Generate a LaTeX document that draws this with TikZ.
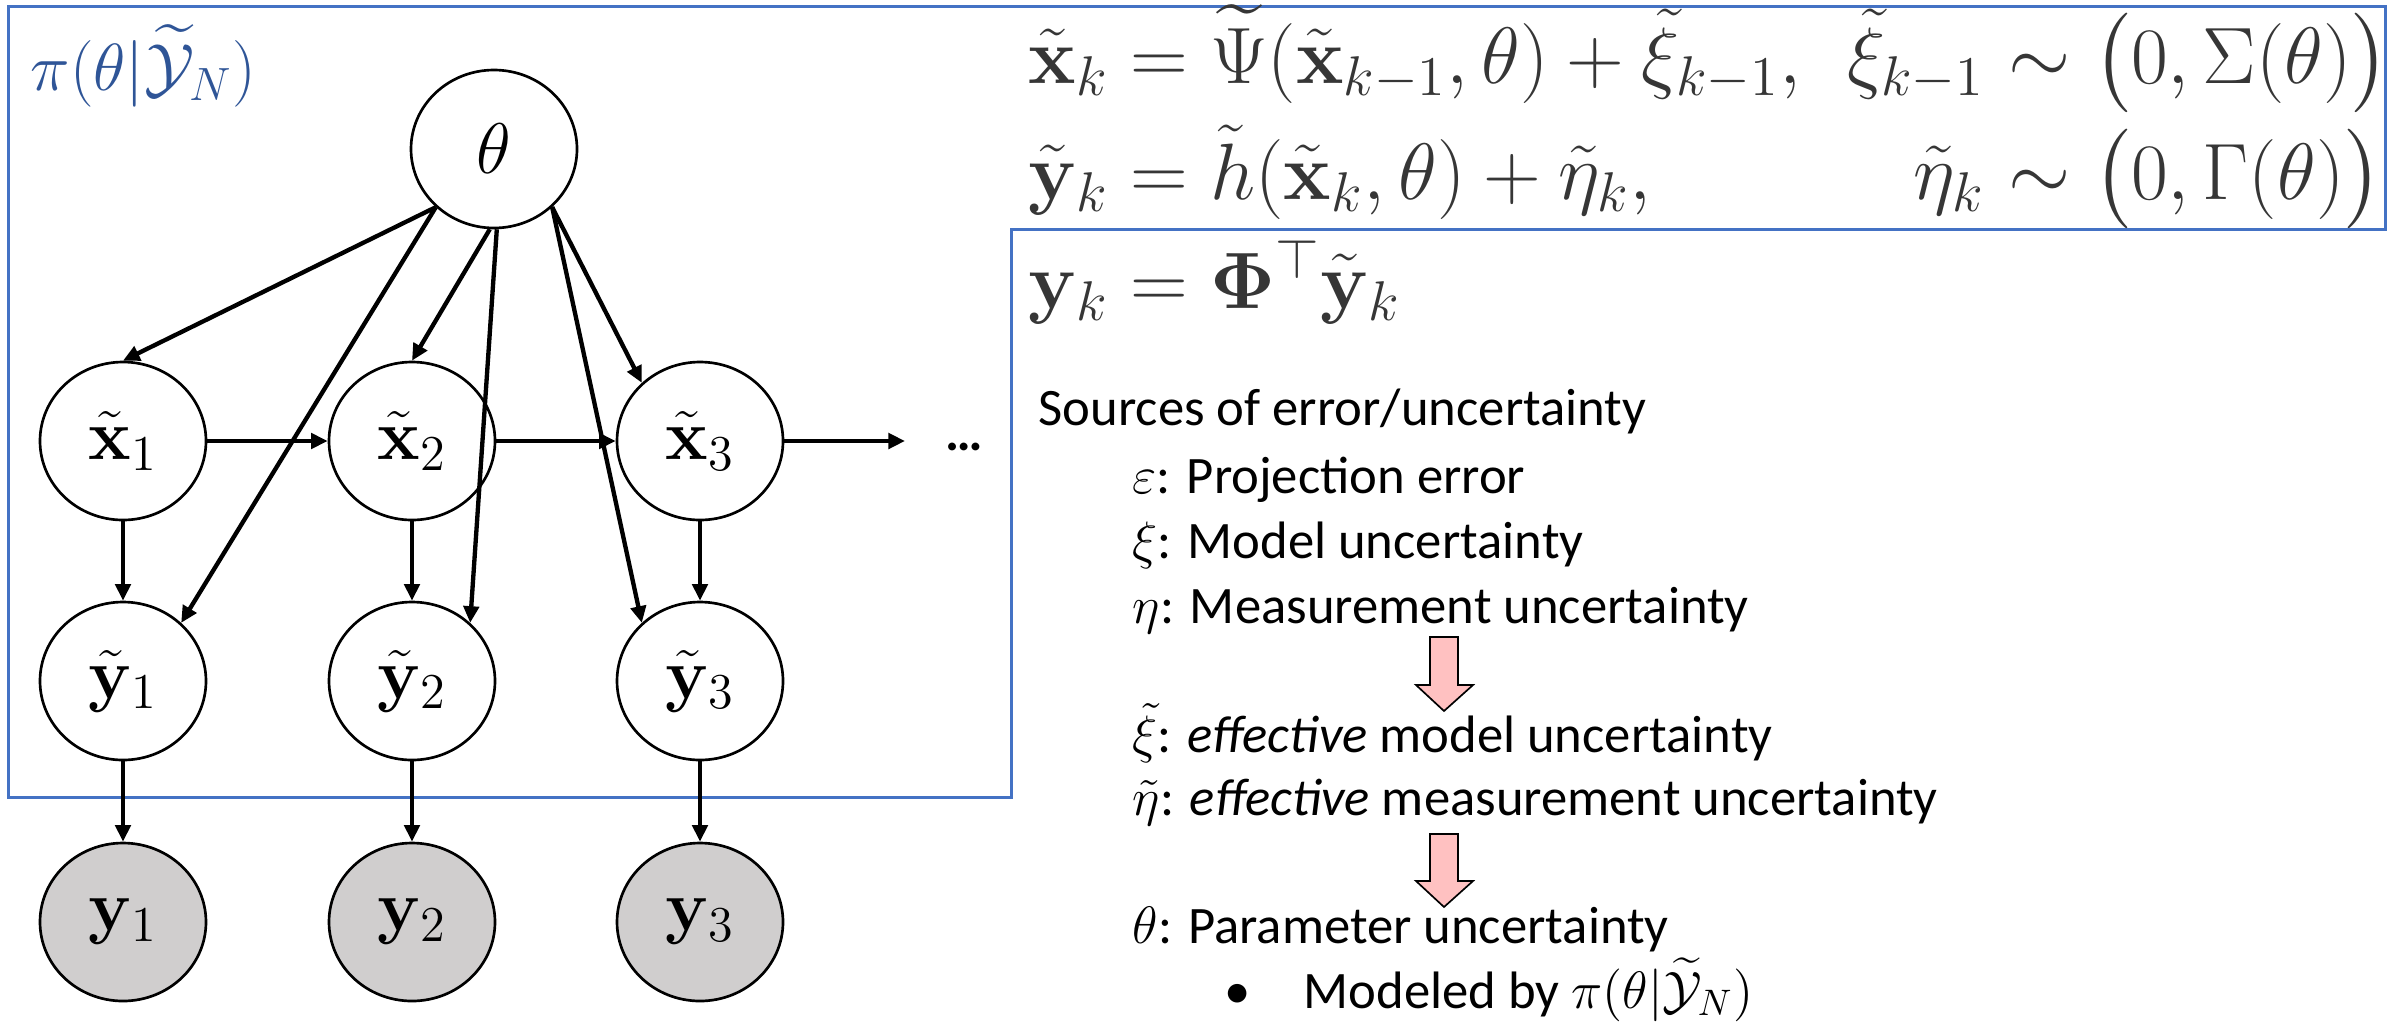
\RequirePackage{fix-cm}
\documentclass[tikz,border=0pt]{standalone}
\usepackage{amsmath}
\usepackage[no-math]{fontspec}
\setmainfont{Carlito}
\usetikzlibrary{shapes.geometric,arrows.meta}
\definecolor{boxblue}{HTML}{4472C4}
\definecolor{labblue}{HTML}{2F5597}
\definecolor{eqgray}{HTML}{363636}
\definecolor{obsgray}{HTML}{D0CECE}
\definecolor{pinkfill}{HTML}{FFC1C1}
\begin{document}
\begin{tikzpicture}[x=0.3pt,y=-0.3pt,
  rv/.style={ellipse,draw,line width=0.8pt,fill=white,minimum width=49.8pt,minimum height=47.4pt,inner sep=0pt,font=\fontsize{21.5}{25}\selectfont},
  obs/.style={rv,fill=obsgray},
  link/.style={line width=1.3pt,-{Triangle[length=5pt,width=4.6pt]}},
  eq/.style={inner sep=0pt,text=eqgray,font=\fontsize{24}{28}\selectfont},
  txt/.style={inner sep=0pt,anchor=base west,font=\fontsize{15.8}{19}\selectfont},
  bigarrow/.style={draw=black,line width=0.5pt,fill=pinkfill,line join=miter}
]
\useasboundingbox (0,0) rectangle (2394,1021);

% outline box
\draw[boxblue,line width=0.9pt] (8,6) -- (2385,6) -- (2385,229) -- (1011,229) -- (1011,797) -- (8,797) -- cycle;

\node[anchor=base west,inner sep=0pt,text=labblue,font=\fontsize{20}{24}\selectfont] (post) at (30,90) {$\pi(\theta|\widetilde{\mathcal{Y}}_N)$};

% nodes
\node[rv] (theta) at (494,149) {$\theta$};
\node[rv] (x1) at (123,441) {$\tilde{\mathbf{x}}_1$};
\node[rv] (x2) at (412,441) {$\tilde{\mathbf{x}}_2$};
\node[rv] (x3) at (700,441) {$\tilde{\mathbf{x}}_3$};
\node[rv] (yt1) at (123,681) {$\tilde{\mathbf{y}}_1$};
\node[rv] (yt2) at (412,681) {$\tilde{\mathbf{y}}_2$};
\node[rv] (yt3) at (700,681) {$\tilde{\mathbf{y}}_3$};
\node[obs] (y1) at (123,922) {$\mathbf{y}_1$};
\node[obs] (y2) at (412,922) {$\mathbf{y}_2$};
\node[obs] (y3) at (700,922) {$\mathbf{y}_3$};
\node[inner sep=0pt,font=\fontsize{15.8}{19}\selectfont\bfseries] (dots) at (964,447) {…};
\coordinate (dend) at (905,441);

% edges
\draw[link] (theta.225) -- (x1.north);
\draw[link] (theta.225) -- (yt1.45);
\draw[link] (theta.267) -- (x2.north);
\draw[link] (theta.272) -- (yt2.45);
\draw[link] (theta.315) -- (x3.135);
\draw[link] (theta.315) -- (yt3.135);
\draw[link] (x1) -- (x2);
\draw[link] (x2) -- (x3);
\draw[link] (x3) -- (dend);
\draw[link] (x1) -- (yt1);
\draw[link] (x2) -- (yt2);
\draw[link] (x3) -- (yt3);
\draw[link] (yt1) -- (y1);
\draw[link] (yt2) -- (y2);
\draw[link] (yt3) -- (y3);

% equations
\node[eq,anchor=base west] (eq1a) at (1028,83) {$\tilde{\mathbf{x}}_k = \widetilde{\Psi}(\tilde{\mathbf{x}}_{k-1},\theta) + \tilde{\xi}_{k-1},$};
\node[eq,anchor=base east] (eq1b) at (1985,83) {$\tilde{\xi}_{k-1}$};
\node[eq,anchor=base west] (eq1c) at (2008,83) {$\sim\bigl(0,\Sigma(\theta)\bigr)$};
\node[eq,anchor=base west] (eq2a) at (1028,199) {$\tilde{\mathbf{y}}_k = \tilde{h}(\tilde{\mathbf{x}}_k,\theta) + \tilde{\eta}_k,$};
\node[eq,anchor=base east] (eq2b) at (1985,199) {$\tilde{\eta}_k$};
\node[eq,anchor=base west] (eq2c) at (2008,199) {$\sim\bigl(0,\Gamma(\theta)\bigr)$};
\node[eq,anchor=base west] (eq3) at (1028,308) {$\mathbf{y}_k = \mathbf{\Phi}^{\top}\tilde{\mathbf{y}}_k$};

% text list
\node[txt] (src) at (1038,425) {Sources of error/uncertainty};
\node[txt] (s1) at (1132,493) {$\varepsilon$: Projection error};
\node[txt] (s2) at (1132,558) {$\xi$: Model uncertainty};
\node[txt] (s3) at (1132,623) {$\eta$: Measurement uncertainty};
\node[txt] (s4) at (1132,752) {$\tilde{\xi}$: \textit{effective} model uncertainty};
\node[txt] (s5) at (1132,815) {$\tilde{\eta}$: \textit{effective} measurement uncertainty};
\node[txt] (s6) at (1132,943) {$\theta$: Parameter uncertainty};
\node[txt,anchor=base] (bul) at (1238,1008) {•};
\node[txt] (s7) at (1303,1008) {Modeled by $\pi(\theta|\widetilde{\mathcal{Y}}_N)$};

% pink arrows
\draw[bigarrow] (1430,637) -- (1458,637) -- (1458,685) -- (1473,685) -- (1444,711) -- (1416,685) -- (1430,685) -- cycle;
\draw[bigarrow] (1430,834) -- (1458,834) -- (1458,881) -- (1473,881) -- (1444,907) -- (1416,881) -- (1430,881) -- cycle;
\end{tikzpicture}
\end{document}
